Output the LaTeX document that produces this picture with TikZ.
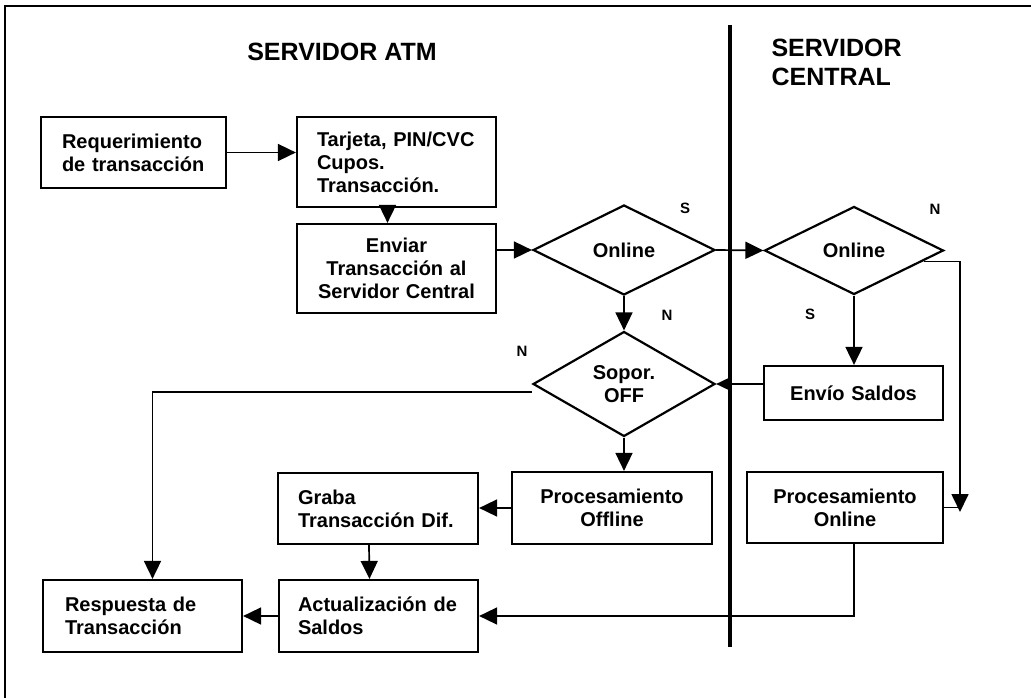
\documentclass[tikz,border=0pt]{standalone}
\usepackage{fontspec}
\setmainfont{Liberation Sans}
\usetikzlibrary{arrows.meta,shapes.geometric,calc}

\begin{document}
\begin{tikzpicture}[x=1pt,y=-1pt,
  txt/.style={font=\bfseries\fontsize{20}{23}\selectfont},
  box/.style={txt, draw, line width=2.2pt, inner ysep=0pt},
  lbox/.style={box, align=left},
  cbox/.style={box, align=center},
  dec/.style={txt, draw, diamond, line width=2.2pt, inner sep=0pt, align=center,
              minimum width=182pt},
  flow/.style={line width=1.7pt, -{Triangle[length=18pt,width=17pt]}},
  smallflow/.style={line width=1.7pt, -{Triangle[length=14pt,width=13pt]}},
  link/.style={line width=1.7pt},
  tag/.style={font=\bfseries\fontsize{15}{17}\selectfont},
  head/.style={font=\bfseries\fontsize{25}{29}\selectfont}]

  \useasboundingbox (0,0) rectangle (1031,698);

  % outer frame (top and left edges only)
  \coordinate (frameL) at (5,698);
  \coordinate (frameC) at (5,6);
  \coordinate (frameR) at (1031,6);
  \draw[line width=2.2pt] (frameL) -- (frameC) -- (frameR);

  % lane divider
  \coordinate (divtop) at (730,25);
  \coordinate (divbot) at (730,647);
  \draw[line width=4.5pt] (divtop) -- (divbot);

  % lane headings
  \node[head] (hatm) at (342,52) {SERVIDOR ATM};
  \node[head, anchor=west, align=left] (hcen) at (768,62.5) {SERVIDOR\\CENTRAL};

  % ATM side
  \node[lbox, minimum height=71pt, text width=143pt, inner xsep=21pt] (req) at (133.5,152.5)
       {Requerimiento\\de transacción};
  \node[lbox, minimum height=90pt, text width=159pt, inner xsep=20pt] (tar) at (396.5,162)
       {Tarjeta, PIN/CVC\\Cupos.\\Transacción.};
  \node[cbox, minimum height=89pt, text width=179pt, inner xsep=10pt] (env) at (396.5,268.5)
       {Enviar\\Transacción al\\Servidor Central};
  \node[dec, minimum height=90pt] (on1) at (624,250) {Online};
  \node[dec, minimum height=105pt] (sop) at (624,384) {Sopor.\\OFF};
  \node[cbox, minimum height=72pt, text width=180pt, inner xsep=10pt] (poff) at (612,508)
       {Procesamiento\\Offline};
  \node[lbox, minimum height=71pt, text width=160pt, inner xsep=20pt] (grab) at (378,508.5)
       {Graba\\Transacción Dif.};
  \node[lbox, minimum height=72pt, text width=161pt, inner xsep=19pt] (act) at (378.5,616)
       {Actualización de\\Saldos};
  \node[lbox, minimum height=72pt, text width=155pt, inner xsep=22pt] (resp) at (142.5,616)
       {Respuesta de\\Transacción};

  % central server side
  \node[dec, minimum width=179pt, minimum height=88pt] (on2) at (854,250.5) {Online};
  \node[cbox, minimum height=54pt, text width=159pt, inner xsep=10pt] (sal) at (853.5,393)
       {Envío Saldos};
  \node[cbox, minimum height=71pt, text width=176pt, inner xsep=10pt] (pon) at (845,507.5)
       {Procesamiento\\Online};

  % branch tags
  \node[tag] (s1) at (685,208) {S};
  \node[tag] (n1) at (667,315) {N};
  \node[tag] (n2) at (935,209) {N};
  \node[tag] (s2) at (810,314) {S};
  \node[tag] (n3) at (522,351) {N};

  % connectors
  \draw[flow] (req.east) -- (req.east -| tar.west);
  \draw[flow] ($(tar.south)+(-9,0)$) -- ($(env.north)+(-9,0)$);
  \draw[flow] (on1.west -| env.east) -- (on1.west);
  \draw[flow] (on1.east) -- (on2.west);
  \draw[flow] (on1.south) -- (sop.north);
  \draw[flow] (on2.south) -- (on2.south |- sal.north);
  \coordinate (nb) at (960,512);
  \draw[flow] ($(on2.east)+(-21,11)$) -| (nb);
  \draw[link] (pon.east) -- (pon.east -| nb);
  \draw[smallflow] (sop.east -| sal.west) -- (sop.east);
  \draw[flow] ($(sop.west)+(0,8)$) -| ($(resp.north)+(10,0)$);
  \draw[flow] (sop.south) -- (sop.south |- poff.north);
  \draw[flow] (poff.west) -- (poff.west -| grab.east);
  \draw[flow] ($(grab.south)+(-9,0)$) -- ($(act.north)+(-9,0)$);
  \draw[flow] (act.west) -- (resp.east);
  \draw[flow] ($(pon.south)+(9,0)$) |- (act.east);
\end{tikzpicture}
\end{document}
